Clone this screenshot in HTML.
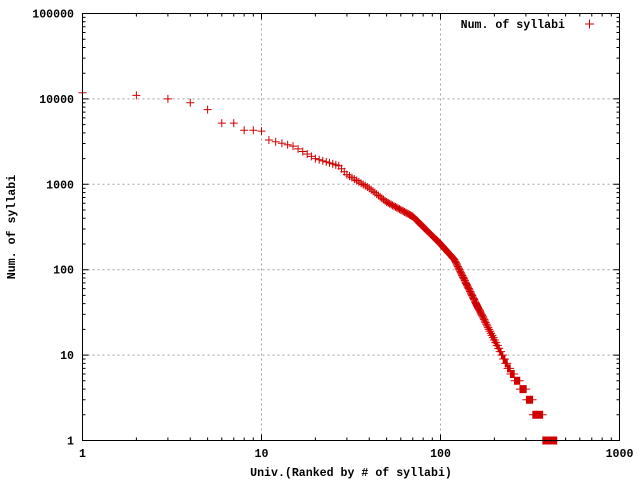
<!DOCTYPE html>
<html><head><style>
body{margin:0;background:#fff}
svg text{font-family:"Liberation Mono",monospace;font-weight:bold;font-size:11.6px;fill:#000}
</style></head><body>
<svg id="s" width="640" height="480" xmlns="http://www.w3.org/2000/svg">
<rect width="640" height="480" fill="#fff"/>
<g id="grid" stroke="#a0a0a0" stroke-dasharray="2,3" stroke-width="1"></g>
<g id="ticks" stroke="#000" stroke-width="1"></g>
<g id="pts" stroke="#d00000" stroke-width="1" fill="none"></g>
<rect x="82.5" y="13.5" width="537" height="427" fill="none" stroke="#000"/>
<g id="lab"></g>
<text x="15" y="227" text-anchor="middle" transform="rotate(-90 15 227)">Num. of syllabi</text>
<text x="351" y="476" text-anchor="middle">Univ.(Ranked by # of syllabi)</text>
<text x="565" y="28" text-anchor="end">Num. of syllabi</text>
<path d="M585 24h9M589.5 19.5v9" stroke="#d00000"/>
</svg>
<script>
var X0=82.5,X1=619.5,Y0=440.5,Y1=13.5;
function px(r){return X0+Math.log10(r)/3*(X1-X0)}
function py(v){return Y0-Math.log10(v)/5*(Y0-Y1)}
var g=document.getElementById('grid'),t=document.getElementById('ticks'),l=document.getElementById('lab'),p=document.getElementById('pts');
var gs='',ts='',ls='';
for(var d=0;d<=3;d++){var x=px(Math.pow(10,d));
 if(d>0&&d<3)gs+='<path d="M'+x+' '+Y0+'V'+Y1+'"/>';
 ts+='<path d="M'+x+' '+Y0+'v-6M'+x+' '+Y1+'v6"/>';
 ls+='<text x="'+x+'" y="457" text-anchor="middle">'+Math.pow(10,d)+'</text>';
 if(d<3)for(var k=2;k<10;k++){var xx=px(k*Math.pow(10,d));ts+='<path d="M'+xx+' '+Y0+'v-3M'+xx+' '+Y1+'v3"/>';}}
for(var d=0;d<=5;d++){var y=py(Math.pow(10,d));
 if(d>0&&d<5)gs+='<path d="M'+X0+' '+y+'H'+X1+'"/>';
 ts+='<path d="M'+X0+' '+y+'h6M'+X1+' '+y+'h-6"/>';
 ls+='<text x="74" y="'+(y+4)+'" text-anchor="end">'+Math.pow(10,d)+'</text>';
 if(d<5)for(var k=2;k<10;k++){var yy=py(k*Math.pow(10,d));ts+='<path d="M'+X0+' '+yy+'h3M'+X1+' '+yy+'h-3"/>';}}
g.innerHTML=gs;t.innerHTML=ts;l.innerHTML=ls;
var A=[[1,11800],[2,11000],[3,10000],[4,9000],[5,7500],[6,5200],[7,5200],[8,4300],[9,4300],[10,4200],[11,3300],[15,2800],[20,2000],[27,1650],[30,1300],[40,900],[50,620],[70,420],[100,200],[120,130],[150,50],[200,15],[250,6],[290,4],[316,3],[330,2.4],[372,1.5],[446,1]];
function interp(r){for(var i=0;i<A.length-1;i++){if(r<=A[i+1][0]){var a=A[i],b=A[i+1];var f=(Math.log(r)-Math.log(a[0]))/(Math.log(b[0])-Math.log(a[0]));return Math.exp(Math.log(a[1])+f*(Math.log(b[1])-Math.log(a[1])));}}return 1;}
var ps='';
for(var r=1;r<=446;r++){var v=Math.max(1,Math.round(interp(r)));if(r<=10)v=A[r-1][1];var x=px(r),y=py(v);
 ps+='M'+(x-4)+' '+y+'h8M'+x+' '+(y-4)+'v8';}
p.innerHTML='<path d="'+ps+'"/>';
</script>
</body></html>
